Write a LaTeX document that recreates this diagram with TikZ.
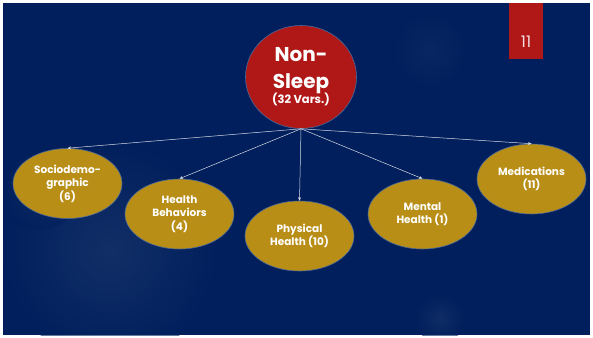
\documentclass[tikz,border=0pt]{standalone}
\usepackage{fontspec}
\setmainfont{Poppins}
\usetikzlibrary{shapes.geometric,arrows.meta}
\definecolor{bgblue}{HTML}{001F5C}
\definecolor{redfill}{HTML}{B01717}
\definecolor{goldfill}{HTML}{B88E17}
\definecolor{edgeblue}{HTML}{4A6A9A}
\tikzset{
  cat/.style={ellipse, draw=edgeblue, line width=0.6pt, fill=goldfill,
    minimum width=109pt, minimum height=70pt, inner sep=0pt, align=center,
    text=white, font=\bfseries\fontsize{10.5}{13.5}\selectfont},
  root/.style={ellipse, draw=edgeblue, line width=0.6pt, fill=redfill,
    minimum width=111pt, minimum height=103pt, inner sep=0pt, align=center,
    text=white, font=\bfseries\fontsize{20}{27}\selectfont},
  link/.style={draw=white!85!bgblue, line width=0.5pt, -{Stealth[length=3.5pt,width=3pt]}}
}
\begin{document}
\begin{tikzpicture}[x=1pt,y=-1pt]
\useasboundingbox (0,0) rectangle (593,337);
\fill[white] (0,0) rectangle (593,337);
\fill[bgblue] (3,3) rectangle (590,335);
% subtle glows
\begin{scope}
\clip (3,3) rectangle (590,335);
\shade[inner color=white!12!bgblue, outer color=bgblue, opacity=0.6] (110,250) circle (110);
\shade[inner color=white!10!bgblue, outer color=bgblue, opacity=0.6] (440,318) circle (25);
\shade[inner color=white!8!bgblue, outer color=bgblue, opacity=0.45] (430,50) circle (40);
\shade[inner color=white!8!bgblue, outer color=bgblue, opacity=0.5] (40,190) circle (40);
\end{scope}
% page number tab
\fill[redfill] (509,3) rectangle (543,59);
\node[text=white!85!redfill, font=\fontsize{16}{16}\selectfont, anchor=base] (pg) at (526,48) {11};
% nodes
\node[root] (ns) at (301,77) {Non-\\Sleep\\[-12pt]{\fontsize{11.5}{12}\selectfont (32 Vars.)}};
\node[cat] (sd) at (67.5,183.5) {Sociodemo-\\graphic\\(6)};
\node[cat] (hb) at (179.5,214) {Health\\Behaviors\\(4)};
\node[cat] (ph) at (299.5,236) {Physical\\Health (10)};
\node[cat] (mh) at (422.5,214) {Mental\\Health (1)};
\node[cat] (md) at (531.5,179) {Medications\\(11)};
% connectors
\coordinate (src) at (ns.south);
\draw[link] (src) -- (sd.north);
\draw[link] (src) -- (hb.north);
\draw[link] (src) -- (ph.north);
\draw[link] (src) -- (mh.north);
\draw[link] (src) -- (md.north);
\end{tikzpicture}
\end{document}
